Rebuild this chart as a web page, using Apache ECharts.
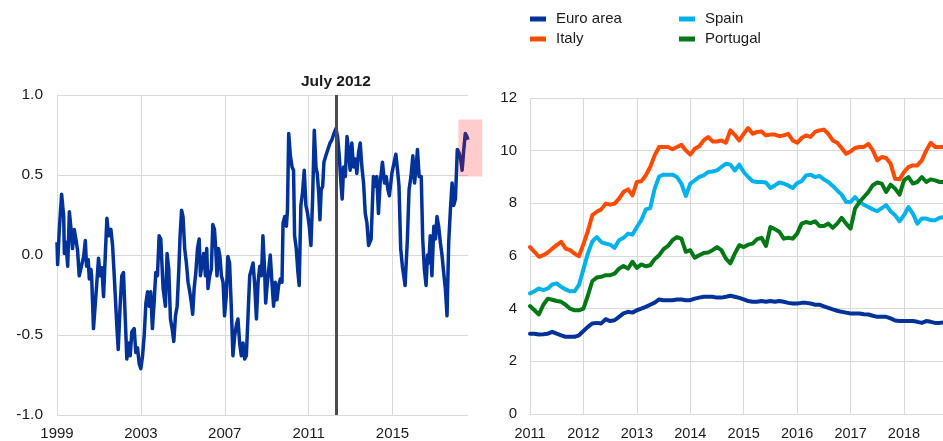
<!DOCTYPE html>
<html>
<head>
<meta charset="utf-8">
<script src="https://cdn.jsdelivr.net/npm/echarts@6/dist/echarts.min.js"></script>
<style>
html,body{margin:0;padding:0;background:#fff;}
#c{width:943px;height:441px;}
</style>
</head>
<body>
<div id="c"></div>
<script>
// ---- Left panel: daily indicator (decimal years) ----
const leftDates = [1999.00,1999.03,1999.11,1999.22,1999.32,1999.35,1999.43,1999.51,1999.59,1999.67,1999.74,1999.82,1999.90,1999.98,
2000.06,2000.14,2000.27,2000.35,2000.41,2000.49,2000.54,2000.62,2000.65,2000.74,2000.81,2000.89,2000.98,
2001.06,2001.14,2001.22,2001.30,2001.38,2001.46,2001.57,2001.65,2001.73,2001.86,2001.92,
2002.01,2002.09,2002.17,2002.25,2002.33,2002.41,2002.49,2002.57,2002.68,2002.76,2002.84,2002.92,
2003.00,2003.08,2003.16,2003.24,2003.32,2003.40,2003.47,2003.55,2003.63,2003.71,2003.79,2003.87,2003.95,
2004.06,2004.17,2004.25,2004.33,2004.41,2004.49,2004.57,2004.65,2004.73,2004.81,2004.87,2004.94,
2005.01,2005.09,2005.17,2005.25,2005.33,2005.41,2005.47,2005.54,2005.62,2005.70,2005.78,2005.84,2005.92,
2006.00,2006.08,2006.14,2006.20,2006.28,2006.36,2006.43,2006.51,2006.57,2006.63,2006.70,2006.77,2006.84,2006.92,2006.99,
2007.07,2007.15,2007.23,2007.31,2007.39,2007.47,2007.55,2007.63,2007.71,2007.79,2007.87,2007.95,
2008.03,2008.11,2008.19,2008.27,2008.35,2008.43,2008.51,2008.59,2008.67,2008.75,2008.82,2008.90,2008.95,
2009.02,2009.17,2009.25,2009.33,2009.41,2009.49,2009.57,2009.65,2009.73,2009.78,2009.86,2009.94,2009.99,
2010.05,2010.13,2010.21,2010.28,2010.33,2010.41,2010.49,2010.55,2010.63,2010.71,2010.79,2010.87,2010.95,
2011.03,2011.11,2011.19,2011.27,2011.35,2011.41,2011.48,2011.54,2011.60,2011.67,2011.73,2011.82,2011.92,
2012.02,2012.11,2012.21,2012.30,2012.38,2012.46,2012.54,2012.60,2012.67,2012.75,2012.83,2012.90,2012.98,
2013.06,2013.14,2013.22,2013.30,2013.38,2013.46,2013.54,2013.62,2013.70,2013.78,2013.86,2013.98,
2014.09,2014.17,2014.25,2014.33,2014.41,2014.52,2014.62,2014.70,2014.78,2014.85,2014.97,
2015.08,2015.16,2015.24,2015.31,2015.39,2015.47,2015.60,2015.71,2015.79,2015.88,2015.97,
2016.05,2016.13,2016.19,2016.27,2016.37,2016.44,2016.52,2016.60,2016.67,2016.73,2016.80,2016.88,2016.97,
2017.05,2017.12,2017.20,2017.28,2017.36,2017.44,2017.52,2017.60,2017.68,2017.76,2017.84,2017.92,
2018.00,2018.09,2018.17,2018.25,2018.32,2018.40,2018.47,2018.55,2018.60];
const leftValues = [0.08,-0.06,0.16,0.38,0.24,0.01,0.08,-0.07,0.27,0.16,0.04,0.16,0.10,0.03,
-0.13,-0.12,-0.01,0.09,-0.07,-0.03,-0.15,-0.09,-0.13,-0.46,-0.45,-0.19,-0.02,
-0.13,-0.08,-0.26,-0.01,0.23,0.12,0.16,0.06,-0.13,-0.46,-0.59,
-0.32,-0.13,-0.11,-0.38,-0.65,-0.55,-0.63,-0.48,-0.46,-0.61,-0.58,-0.68,
-0.71,-0.63,-0.50,-0.30,-0.23,-0.32,-0.23,-0.46,-0.30,-0.11,-0.13,0.12,0.10,
-0.21,-0.32,0.01,-0.09,-0.40,-0.46,-0.54,-0.38,-0.32,-0.09,0.12,0.28,
0.24,0.04,-0.05,-0.17,-0.23,-0.30,-0.37,-0.21,-0.11,0.04,0.10,-0.13,-0.05,
0.01,-0.13,0.04,-0.21,-0.13,-0.09,0.19,0.16,0.04,-0.13,0.04,-0.01,-0.13,-0.17,-0.38,
-0.26,-0.01,-0.05,-0.32,-0.63,-0.51,-0.44,-0.40,-0.55,-0.63,-0.55,-0.65,
-0.63,-0.38,-0.13,-0.09,-0.05,-0.19,-0.40,-0.17,-0.07,-0.13,0.12,-0.09,-0.30,
-0.19,0.00,-0.17,-0.32,-0.17,-0.28,-0.19,-0.15,-0.17,0.20,0.24,0.18,0.28,
0.76,0.62,0.55,0.53,0.12,0.04,-0.11,-0.19,0.31,0.39,0.53,0.31,0.26,
0.18,0.06,0.35,0.78,0.55,0.51,0.39,0.22,0.41,0.43,0.58,0.62,0.66,
0.70,0.72,0.76,0.79,0.74,0.62,0.45,0.35,0.55,0.49,0.74,0.66,0.53,
0.70,0.55,0.60,0.51,0.64,0.70,0.55,0.45,0.26,0.20,0.06,0.10,
0.49,0.43,0.49,0.26,0.45,0.58,0.45,0.49,0.41,0.37,0.51,
0.58,0.63,0.53,0.43,0.04,-0.07,-0.19,0.10,0.41,0.49,0.62,
0.45,0.55,0.66,0.49,0.49,0.10,-0.09,-0.19,0.00,-0.05,0.12,-0.13,0.18,
0.10,0.24,0.18,0.08,0.00,-0.11,-0.21,-0.38,0.08,0.28,0.45,0.31,
0.35,0.66,0.64,0.60,0.53,0.66,0.76,0.74,0.72];
const leftYTicks = [-1, -0.5, 0, 0.5, 1];
const markerDate = 2012.30;
const markerLabel = 'July 2012';
const highlightBox = {x0: 2018.14, x1: 2019.28, y0: 0.49, y1: 0.847};

// ---- Right panel: monthly series, Jan 2011 onwards ----
const rightStartYear = 2011;
const euroArea = [3.05,3.05,3.02,3.03,3.05,3.12,3.05,2.99,2.93,2.93,
2.93,2.99,3.15,3.31,3.44,3.46,3.44,3.60,3.53,3.56,
3.69,3.82,3.88,3.85,3.94,4.00,4.07,4.15,4.23,4.35,
4.32,4.32,4.32,4.35,4.35,4.32,4.32,4.38,4.42,4.45,
4.45,4.45,4.42,4.42,4.45,4.49,4.45,4.41,4.35,4.29,
4.26,4.26,4.29,4.26,4.29,4.26,4.29,4.26,4.22,4.20,
4.20,4.22,4.22,4.20,4.15,4.15,4.09,4.03,3.97,3.92,
3.88,3.85,3.82,3.82,3.82,3.79,3.78,3.73,3.69,3.69,
3.69,3.63,3.55,3.53,3.53,3.53,3.53,3.50,3.46,3.53,
3.50,3.46,3.46,3.48];
const italy = [6.34,6.16,5.97,6.03,6.13,6.28,6.41,6.54,6.28,6.22,
6.09,5.99,6.45,6.95,7.55,7.68,7.77,7.99,7.95,7.99,
8.18,8.43,8.53,8.30,8.81,8.84,9.06,9.38,9.82,10.14,
10.14,10.14,10.05,10.14,10.22,10.01,9.85,10.07,10.17,10.39,
10.52,10.35,10.35,10.39,10.30,10.77,10.60,10.39,10.64,10.86,
10.64,10.71,10.73,10.58,10.61,10.61,10.55,10.58,10.64,10.39,
10.30,10.48,10.58,10.52,10.71,10.77,10.80,10.64,10.39,10.30,
10.10,9.88,9.97,10.10,10.14,10.14,10.26,10.01,9.63,9.76,
9.72,9.50,8.93,8.91,9.19,9.38,9.44,9.44,9.63,10.01,
10.30,10.14,10.14,10.14];
const spain = [4.58,4.66,4.77,4.70,4.77,4.92,4.96,4.83,4.73,4.66,
4.66,4.90,5.50,6.10,6.55,6.72,6.53,6.47,6.43,6.31,
6.60,6.69,6.85,6.81,7.10,7.36,7.77,7.82,8.56,9.02,
9.09,9.09,9.09,9.00,8.75,8.28,8.75,8.87,9.00,9.06,
9.19,9.21,9.25,9.38,9.50,9.47,9.25,9.47,9.19,9.00,
8.84,8.81,8.81,8.79,8.58,8.68,8.79,8.75,8.68,8.58,
8.77,8.84,9.06,9.09,9.00,9.04,8.91,8.81,8.66,8.49,
8.33,8.05,8.05,8.24,8.05,7.95,7.86,7.77,7.70,7.82,
7.93,7.70,7.55,7.32,7.55,7.86,7.61,7.23,7.42,7.42,
7.36,7.36,7.45,7.48];
const portugal = [4.10,3.94,3.78,4.15,4.38,4.34,4.29,4.26,4.15,4.00,
3.94,3.94,4.00,4.50,5.05,5.18,5.21,5.27,5.27,5.33,
5.52,5.62,5.52,5.78,5.55,5.68,5.61,5.65,5.88,6.03,
6.26,6.38,6.60,6.72,6.66,6.16,6.22,5.93,6.03,6.11,
6.13,6.22,6.34,6.22,5.90,5.72,6.09,6.41,6.34,6.43,
6.47,6.64,6.69,6.38,7.10,7.02,6.92,6.66,6.69,6.66,
6.85,7.23,7.29,7.25,7.32,7.14,7.14,7.23,7.07,7.23,
7.45,7.23,7.04,7.80,8.05,8.24,8.43,8.69,8.79,8.75,
8.43,8.71,8.56,8.33,8.87,9.00,8.75,8.81,9.00,8.81,
8.91,8.87,8.81,8.81];
const rightNames = ['Euro area', 'Italy', 'Spain', 'Portugal'];
const rightColors = ['#003299', '#ff4b00', '#00b1ea', '#007816'];

const FONT = 'Liberation Sans, Arial, sans-serif';
const TXT = '#1a1a1a';
const GRID = '#d9d9d9';

const monthX = i => rightStartYear + i / 12;
const pairs = (xs, ys) => ys.map((v, i) => [xs[i], v]);
const monthly = ys => ys.map((v, i) => [monthX(i), v]);

const chart = echarts.init(document.getElementById('c'), null, {renderer: 'canvas'});

const rightSeries = [euroArea, italy, spain, portugal].map((d, i) => ({
  name: rightNames[i],
  type: 'line',
  xAxisIndex: 1, yAxisIndex: 1,
  data: monthly(d),
  showSymbol: false,
  symbol: 'none',
  lineStyle: {width: 4, color: rightColors[i], join: 'round', cap: 'round'},
  itemStyle: {color: rightColors[i]},
  z: 3 + i
}));

const legendCommon = {
  orient: 'vertical', top: 11, padding: 0, itemWidth: 16, itemHeight: 5, itemGap: 4,
  icon: 'rect',
  textStyle: {fontFamily: FONT, fontSize: 15, color: TXT, lineHeight: 16, padding: [0,0,0,5]},
  selectedMode: false
};

chart.setOption({
  animation: false,
  backgroundColor: '#fff',
  legend: [
    Object.assign({}, legendCommon, {left: 530, data: ['Euro area', 'Italy']}),
    Object.assign({}, legendCommon, {left: 679, data: ['Spain', 'Portugal']})
  ],
  grid: [
    {left: 57, top: 95, width: 411, height: 321},
    {left: 530, top: 98, right: 0, height: 316}
  ],
  xAxis: [
    {gridIndex: 0, type: 'value', min: 1999, max: 2018.6, interval: 4,
     axisLine: {show: true, lineStyle: {color: GRID, width: 1}},
     axisTick: {show: false},
     axisLabel: {fontFamily: FONT, fontSize: 15, color: TXT, margin: 11, showMaxLabel: false,
                 formatter: v => String(Math.round(v))},
     splitLine: {show: true, showMaxLine: false, lineStyle: {color: GRID, width: 1}}},
    {gridIndex: 1, type: 'value', min: 2011, max: 2018.73, interval: 1,
     axisLine: {show: true, lineStyle: {color: GRID, width: 1}},
     axisTick: {show: false},
     axisLabel: {fontFamily: FONT, fontSize: 14.5, color: TXT, margin: 12, showMaxLabel: false,
                 formatter: v => String(Math.round(v))},
     splitLine: {show: true, showMaxLine: false, lineStyle: {color: GRID, width: 1}}}
  ],
  yAxis: [
    {gridIndex: 0, type: 'value', min: leftYTicks[0], max: leftYTicks[leftYTicks.length-1], interval: 0.5,
     axisLine: {show: true, lineStyle: {color: GRID, width: 1}},
     axisTick: {show: false},
     axisLabel: {fontFamily: FONT, fontSize: 15.5, color: TXT, margin: 14, formatter: v => v.toFixed(1)},
     splitLine: {show: true, lineStyle: {color: GRID, width: 1}}},
    {gridIndex: 1, type: 'value', min: 0, max: 12, interval: 2,
     axisLine: {show: true, lineStyle: {color: GRID, width: 1}},
     axisTick: {show: false},
     axisLabel: {fontFamily: FONT, fontSize: 15, color: TXT, margin: 13},
     splitLine: {show: true, lineStyle: {color: GRID, width: 1}}}
  ],
  series: [
    {
      name: 'Indicator', type: 'line', xAxisIndex: 0, yAxisIndex: 0,
      data: pairs(leftDates, leftValues),
      showSymbol: false, symbol: 'none',
      lineStyle: {width: 3.5, color: '#003299', join: 'round'},
      z: 3,
      markLine: {
        silent: true, symbol: ['none', 'none'],
        lineStyle: {color: '#4d4d4d', width: 3, type: 'solid'},
        label: {show: true, position: 'end', formatter: markerLabel, distance: 5,
                fontFamily: FONT, fontSize: 15.5, fontWeight: 'bold', color: TXT},
        data: [{xAxis: markerDate}]
      }
    }
  ].concat(rightSeries)
});

// Highlight box (extends past the plot edge), placed through the axis scales
const p0 = chart.convertToPixel({gridIndex: 0}, [highlightBox.x0, highlightBox.y1]);
const p1 = chart.convertToPixel({gridIndex: 0}, [highlightBox.x1, highlightBox.y0]);
chart.setOption({
  graphic: [{
    type: 'rect', silent: true, z: 10,
    shape: {x: p0[0], y: p0[1], width: p1[0] - p0[0], height: p1[1] - p0[1]},
    style: {fill: 'rgba(255,0,0,0.2)'}
  }]
});
</script>
</body>
</html>
